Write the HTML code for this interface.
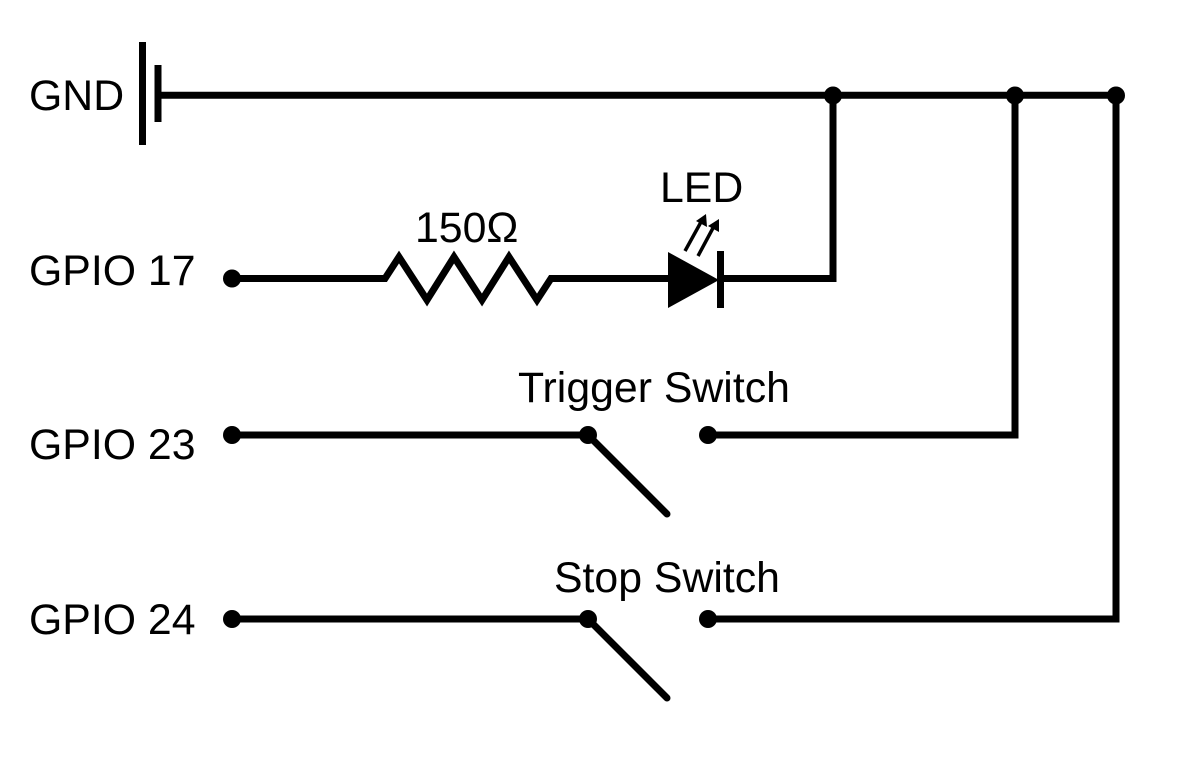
<!DOCTYPE html>
<html><head><meta charset="utf-8"><style>
html,body{margin:0;padding:0;background:#fff}
svg{display:block}
text{font-family:"Liberation Sans",sans-serif;font-size:42.8px;fill:#000}
</style></head><body>
<svg width="1200" height="762" viewBox="0 0 1200 762" xmlns="http://www.w3.org/2000/svg">
<rect width="1200" height="762" fill="#fff"/>
<g fill="none" stroke="#000" stroke-width="7">
<path d="M142.500 42V145M158 65V122"/>
<path d="M158 95.300H1116V619H708"/>
<path d="M833 95V278.500H720"/>
<path d="M1015 95V435H708"/>
<path d="M232 278.500H385L399 257L427 300L454 257L482 300L509 257L537 300L551 278.500H670"/>
<path d="M720.500 251V308"/>
<path d="M232 435H588"/>
<path d="M232 619H588"/>
<path d="M588 435L667 514" stroke-linecap="round"/>
<path d="M588 619L667 698" stroke-linecap="round"/>
</g>
<path d="M668 252V308L719 280Z" fill="#000"/>
<g stroke="#000" stroke-width="3.500" fill="none">
<path d="M685 251L701 222"/><path d="M698 256L713 228"/>
</g>
<path d="M706 214L707 227L696 221Z M719 219L719 232L708 226Z" fill="#000"/>
<g fill="#000">
<circle cx="833" cy="95.500" r="9"/><circle cx="1015" cy="95.500" r="9"/><circle cx="1116" cy="95.500" r="9"/>
<circle cx="232" cy="278.500" r="9"/>
<circle cx="232" cy="435" r="9"/><circle cx="588" cy="435" r="9"/><circle cx="708" cy="435" r="9"/>
<circle cx="232" cy="619" r="9"/><circle cx="588" cy="619" r="9"/><circle cx="708" cy="619" r="9"/>
</g>
<text x="29" y="110">GND</text>
<text x="29" y="285">GPIO 17</text>
<text x="29" y="459">GPIO 23</text>
<text x="29" y="634">GPIO 24</text>
<text x="415" y="242">150Ω</text>
<text x="660" y="202">LED</text>
<text x="518" y="402">Trigger Switch</text>
<text x="554" y="592">Stop Switch</text>
</svg>
</body></html>
